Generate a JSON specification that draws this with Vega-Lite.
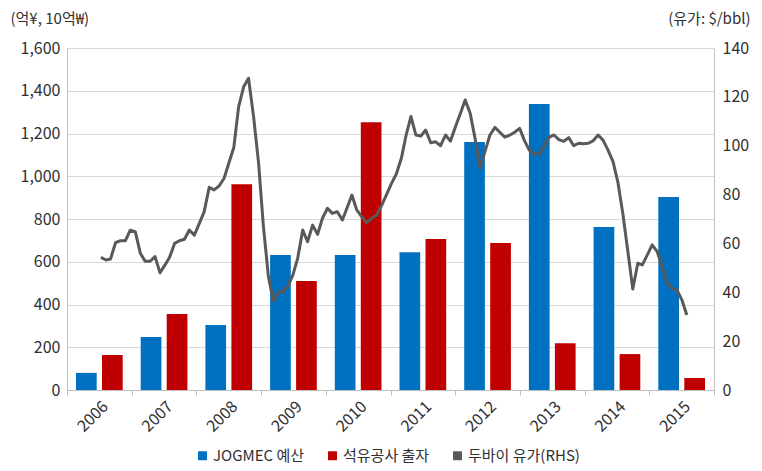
{
  "$schema": "https://vega.github.io/schema/vega-lite/v6.json",
  "autosize": "none",
  "width": 647,
  "height": 342,
  "padding": {"left": 67, "top": 48, "right": 48, "bottom": 81},
  "config": {
    "view": {"stroke": null},
    "font": "Noto Sans CJK KR",
    "axis": {"labelFont": "Noto Sans CJK KR", "titleFont": "Noto Sans CJK KR", "labelColor": "#303030", "titleColor": "#303030", "labelFontSize": 16, "titleFontSize": 15, "titleFontWeight": "normal", "domainColor": "#bfbfbf", "tickColor": "#bfbfbf"},
    "legend": {"labelFont": "Noto Sans CJK KR", "labelColor": "#303030", "labelFontSize": 15}
  },
  "layer": [
    {
      "data": {"values": [
        {"year": "2006", "series": "JOGMEC 예산", "value": 80},
        {"year": "2006", "series": "석유공사 출자", "value": 164},
        {"year": "2007", "series": "JOGMEC 예산", "value": 248},
        {"year": "2007", "series": "석유공사 출자", "value": 355},
        {"year": "2008", "series": "JOGMEC 예산", "value": 304},
        {"year": "2008", "series": "석유공사 출자", "value": 963},
        {"year": "2009", "series": "JOGMEC 예산", "value": 631},
        {"year": "2009", "series": "석유공사 출자", "value": 510},
        {"year": "2010", "series": "JOGMEC 예산", "value": 631},
        {"year": "2010", "series": "석유공사 출자", "value": 1253},
        {"year": "2011", "series": "JOGMEC 예산", "value": 645},
        {"year": "2011", "series": "석유공사 출자", "value": 706},
        {"year": "2012", "series": "JOGMEC 예산", "value": 1160},
        {"year": "2012", "series": "석유공사 출자", "value": 688},
        {"year": "2013", "series": "JOGMEC 예산", "value": 1338},
        {"year": "2013", "series": "석유공사 출자", "value": 219},
        {"year": "2014", "series": "JOGMEC 예산", "value": 762},
        {"year": "2014", "series": "석유공사 출자", "value": 168},
        {"year": "2015", "series": "JOGMEC 예산", "value": 903},
        {"year": "2015", "series": "석유공사 출자", "value": 56}
      ]},
      "mark": {"type": "bar"},
      "encoding": {
        "x": {"field": "year", "type": "nominal", "scale": {"paddingInner": 0, "paddingOuter": 0},
              "axis": {"title": null, "labelAngle": -45, "tickBand": "extent", "grid": false, "ticks": true, "tickSize": 5, "labelPadding": 3}},
        "xOffset": {"field": "series", "type": "nominal", "sort": ["JOGMEC 예산", "석유공사 출자"], "scale": {"paddingInner": 0.204, "paddingOuter": 0.346}},
        "y": {"field": "value", "type": "quantitative", "scale": {"domain": [0, 1600], "nice": false},
              "axis": {"values": [0, 200, 400, 600, 800, 1000, 1200, 1400, 1600], "format": ",d", "grid": true, "gridColor": "#d9d9d9", "ticks": false, "labelPadding": 7,
                       "title": "(억¥, 10억₩)", "titleAngle": 0, "titleX": -57, "titleY": -30, "titleAlign": "left", "titleBaseline": "middle"}},
        "color": {"field": "series", "type": "nominal",
                  "scale": {"domain": ["JOGMEC 예산", "석유공사 출자", "두바이 유가(RHS)"], "range": ["#0070c0", "#c00000", "#595959"]},
                  "legend": {"title": null, "orient": "none", "legendX": 128, "legendY": 400, "direction": "horizontal", "symbolType": "square", "symbolSize": 80, "symbolStrokeWidth": 0, "symbolFillOpacity": 1, "columnPadding": 20, "labelOffset": 3, "labelLimit": 300}}
      }
    },
    {
      "data": {"values": [
        {"date": "2006-01-01", "price": 54.3}, {"date": "2006-02-01", "price": 53.2}, {"date": "2006-03-01", "price": 53.6}, {"date": "2006-04-01", "price": 60.3},
        {"date": "2006-05-01", "price": 61.1}, {"date": "2006-06-01", "price": 61.1}, {"date": "2006-07-01", "price": 65.4}, {"date": "2006-08-01", "price": 64.8},
        {"date": "2006-09-01", "price": 56.0}, {"date": "2006-10-01", "price": 52.7}, {"date": "2006-11-01", "price": 52.7}, {"date": "2006-12-01", "price": 54.6},
        {"date": "2007-01-01", "price": 48.0}, {"date": "2007-02-01", "price": 51.2}, {"date": "2007-03-01", "price": 54.3}, {"date": "2007-04-01", "price": 60.0},
        {"date": "2007-05-01", "price": 61.1}, {"date": "2007-06-01", "price": 61.7}, {"date": "2007-07-01", "price": 65.5}, {"date": "2007-08-01", "price": 63.4},
        {"date": "2007-09-01", "price": 68.2}, {"date": "2007-10-01", "price": 73.0}, {"date": "2007-11-01", "price": 83.0}, {"date": "2007-12-01", "price": 81.9},
        {"date": "2008-01-01", "price": 83.5}, {"date": "2008-02-01", "price": 86.7}, {"date": "2008-03-01", "price": 92.8}, {"date": "2008-04-01", "price": 99.3},
        {"date": "2008-05-01", "price": 116.0}, {"date": "2008-06-01", "price": 124.1}, {"date": "2008-07-01", "price": 127.6}, {"date": "2008-08-01", "price": 112.0},
        {"date": "2008-09-01", "price": 93.0}, {"date": "2008-10-01", "price": 67.0}, {"date": "2008-11-01", "price": 46.4}, {"date": "2008-12-01", "price": 36.5},
        {"date": "2009-01-01", "price": 40.0}, {"date": "2009-02-01", "price": 40.5}, {"date": "2009-03-01", "price": 42.5}, {"date": "2009-04-01", "price": 47.0},
        {"date": "2009-05-01", "price": 54.0}, {"date": "2009-06-01", "price": 65.5}, {"date": "2009-07-01", "price": 60.7}, {"date": "2009-08-01", "price": 67.5},
        {"date": "2009-09-01", "price": 63.7}, {"date": "2009-10-01", "price": 70.3}, {"date": "2009-11-01", "price": 74.4}, {"date": "2009-12-01", "price": 72.3},
        {"date": "2010-01-01", "price": 73.0}, {"date": "2010-02-01", "price": 69.6}, {"date": "2010-03-01", "price": 74.4}, {"date": "2010-04-01", "price": 79.8},
        {"date": "2010-05-01", "price": 73.7}, {"date": "2010-06-01", "price": 70.9}, {"date": "2010-07-01", "price": 68.5}, {"date": "2010-08-01", "price": 70.3},
        {"date": "2010-09-01", "price": 71.6}, {"date": "2010-10-01", "price": 75.5}, {"date": "2010-11-01", "price": 80.0}, {"date": "2010-12-01", "price": 84.5},
        {"date": "2011-01-01", "price": 88.5}, {"date": "2011-02-01", "price": 95.0}, {"date": "2011-03-01", "price": 104.0}, {"date": "2011-04-01", "price": 112.0},
        {"date": "2011-05-01", "price": 104.4}, {"date": "2011-06-01", "price": 104.0}, {"date": "2011-07-01", "price": 106.4}, {"date": "2011-08-01", "price": 101.2},
        {"date": "2011-09-01", "price": 101.6}, {"date": "2011-10-01", "price": 100.0}, {"date": "2011-11-01", "price": 104.4}, {"date": "2011-12-01", "price": 101.9},
        {"date": "2012-01-01", "price": 107.8}, {"date": "2012-02-01", "price": 113.3}, {"date": "2012-03-01", "price": 118.7}, {"date": "2012-04-01", "price": 113.3},
        {"date": "2012-05-01", "price": 103.0}, {"date": "2012-06-01", "price": 91.0}, {"date": "2012-07-01", "price": 97.5}, {"date": "2012-08-01", "price": 104.4},
        {"date": "2012-09-01", "price": 107.5}, {"date": "2012-10-01", "price": 105.5}, {"date": "2012-11-01", "price": 103.5}, {"date": "2012-12-01", "price": 104.3},
        {"date": "2013-01-01", "price": 105.5}, {"date": "2013-02-01", "price": 107.1}, {"date": "2013-03-01", "price": 102.3}, {"date": "2013-04-01", "price": 98.2},
        {"date": "2013-05-01", "price": 96.6}, {"date": "2013-06-01", "price": 96.6}, {"date": "2013-07-01", "price": 99.6}, {"date": "2013-08-01", "price": 103.4},
        {"date": "2013-09-01", "price": 104.4}, {"date": "2013-10-01", "price": 102.5}, {"date": "2013-11-01", "price": 101.8}, {"date": "2013-12-01", "price": 103.3},
        {"date": "2014-01-01", "price": 100.0}, {"date": "2014-02-01", "price": 101.0}, {"date": "2014-03-01", "price": 100.8}, {"date": "2014-04-01", "price": 101.0},
        {"date": "2014-05-01", "price": 102.0}, {"date": "2014-06-01", "price": 104.4}, {"date": "2014-07-01", "price": 102.3}, {"date": "2014-08-01", "price": 98.2},
        {"date": "2014-09-01", "price": 93.5}, {"date": "2014-10-01", "price": 85.0}, {"date": "2014-11-01", "price": 72.0}, {"date": "2014-12-01", "price": 57.0},
        {"date": "2015-01-01", "price": 41.3}, {"date": "2015-02-01", "price": 51.9}, {"date": "2015-03-01", "price": 51.2}, {"date": "2015-04-01", "price": 55.3},
        {"date": "2015-05-01", "price": 59.4}, {"date": "2015-06-01", "price": 56.6}, {"date": "2015-07-01", "price": 50.8}, {"date": "2015-08-01", "price": 44.0},
        {"date": "2015-09-01", "price": 41.5}, {"date": "2015-10-01", "price": 41.0}, {"date": "2015-11-01", "price": 36.8}, {"date": "2015-12-01", "price": 30.7}
      ]},
      "mark": {"type": "line", "strokeWidth": 3, "strokeJoin": "round"},
      "encoding": {
        "x": {"field": "date", "type": "temporal", "scale": {"domain": ["2005-06-05", "2016-05-17"], "nice": false}, "axis": null},
        "y": {"field": "price", "type": "quantitative", "scale": {"domain": [0, 140], "nice": false},
              "axis": {"orient": "right", "values": [0, 20, 40, 60, 80, 100, 120, 140], "grid": false, "ticks": false, "labelPadding": 8,
                       "title": "(유가: $/bbl)", "titleAngle": 0, "titleX": 36, "titleY": -30, "titleAlign": "right", "titleBaseline": "middle"}},
        "color": {"datum": "두바이 유가(RHS)"}
      }
    }
  ],
  "resolve": {"scale": {"x": "independent", "y": "independent", "color": "shared"}, "axis": {"y": "independent"}}
}
